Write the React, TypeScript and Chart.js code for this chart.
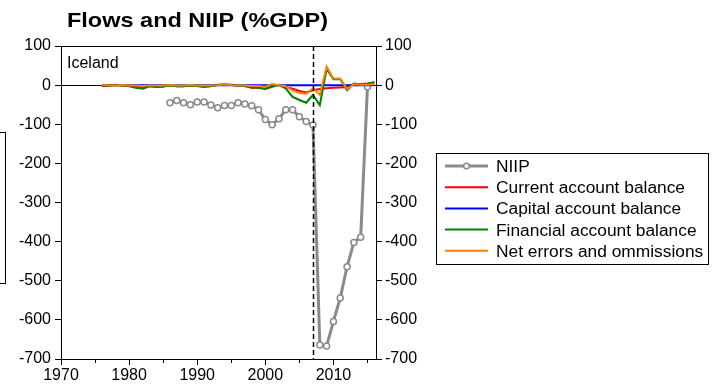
import { useEffect, useRef } from 'react';
import { Chart, registerables } from 'chart.js';

Chart.register(...registerables);

const FONT = "'Liberation Sans', Arial, Helvetica, sans-serif";

const TITLE = 'Flows and NIIP (%GDP)';
const COUNTRY = 'Iceland';

const FLOW_YEARS = [
  1976, 1977, 1978, 1979, 1980, 1981, 1982, 1983, 1984, 1985,
  1986, 1987, 1988, 1989, 1990, 1991, 1992, 1993, 1994, 1995,
  1996, 1997, 1998, 1999, 2000, 2001, 2002, 2003, 2004, 2005,
  2006, 2007, 2008, 2009, 2010, 2011, 2012, 2013, 2014, 2015, 2016,
];

const CURRENT_ACCOUNT = [
  -2, -2, 1, -1, -2, -4, -8, -2, -5, -4,
  0, -3, -3, -1, -2, -4, -2, 1, 2, 1,
  -2, -2, -7, -7, -10, -4, 1, -5, -9, -15,
  -19, -13, -10, -8, -7, -6, -5, 3, 3, 4, 6,
];

const CAPITAL_ACCOUNT = [
  0, 0, 0, 0, 0, 0, 0, 0, 0, 0,
  0, 0, 0, 0, 0, 0, 0, 0, 0, 0,
  0, 0, 0, 0, 0, 0, 0, 0, 0, 0,
  0, 0, 0, 0, 0, 0, 0, 0, 0, 0, 0,
];

const FINANCIAL_ACCOUNT = [
  0, -1, 0, -1, -3, -7, -9, -3, -4, -3,
  -1, -3, -3, -1, -2, -4, -3, 0, 1, 0,
  -1, -3, -6, -7, -9, -3, 0, -8, -30, -38,
  -45, -25, -51, 42, 15, 15, -13, 4, 2, 3, 8,
];

const NET_ERRORS = [
  0, -1, -1, 0, -1, -1, -2, -1, -1, -1,
  0, -1, -1, 0, -1, -1, -1, 0, 2, 0,
  -1, -1, -2, -2, -4, 3, 0, -3, -14, -20,
  -22, -8, -25, 47, 17, 17, -10, 2, 1, 1, 2,
];

const NIIP_YEARS = [
  1986, 1987, 1988, 1989, 1990, 1991, 1992, 1993, 1994, 1995,
  1996, 1997, 1998, 1999, 2000, 2001, 2002, 2003, 2004, 2005,
  2006, 2007, 2008, 2009, 2010, 2011, 2012, 2013, 2014, 2015,
];

const NIIP = [
  -45, -39, -45, -50, -43, -43, -51, -58, -52, -52,
  -45, -48, -53, -63, -88, -101, -86, -63, -63, -81,
  -93, -102, -664, -667, -604, -544, -464, -402, -389, -4,
];

const X_LABELS = [1970, 1980, 1990, 2000, 2010];
const X_MINOR = [1975, 1985, 1995, 2005, 2015];
const CRISIS_YEAR = 2007;

const LEGEND_LABELS = [
  'NIIP',
  'Current account balance',
  'Capital account balance',
  'Financial account balance',
  'Net errors and ommissions',
];
const COLORS = ['#8a8a8a', '#ff0000', '#0000ff', '#008000', '#ff8000'];

function pts(xs: number[], ys: number[]) {
  return xs.map((x, i) => ({ x, y: ys[i] }));
}

function drawStretched(ctx: CanvasRenderingContext2D, text: string, x: number, y: number, font: string, sx: number, align: 'left' | 'center') {
  ctx.save();
  ctx.font = font;
  ctx.textBaseline = 'alphabetic';
  ctx.textAlign = 'left';
  const w = ctx.measureText(text).width * sx;
  const x0 = align === 'center' ? x - w / 2 : x;
  ctx.translate(x0, y);
  ctx.scale(sx, 1);
  ctx.fillStyle = '#000';
  ctx.fillText(text, 0, 0);
  ctx.restore();
}

const decor = {
  id: 'decor',
  beforeDatasetsDraw(chart: any) {
    const { ctx, chartArea: a, scales } = chart;
    const y0 = Math.round(scales.y.getPixelForValue(0)) + 0.5;
    ctx.save();
    ctx.strokeStyle = '#000';
    ctx.lineWidth = 1;
    ctx.beginPath();
    ctx.moveTo(a.left, y0);
    ctx.lineTo(a.right, y0);
    ctx.stroke();
    ctx.restore();
  },
  afterDatasetsDraw(chart: any) {
    const { ctx, chartArea: a, scales } = chart;
    ctx.save();
    // dashed crisis line
    const xc = Math.round(scales.x.getPixelForValue(CRISIS_YEAR)) + 0.5;
    ctx.strokeStyle = '#000';
    ctx.lineWidth = 1.5;
    ctx.setLineDash([5, 3]);
    ctx.beginPath();
    ctx.moveTo(xc, a.top);
    ctx.lineTo(xc, a.bottom);
    ctx.stroke();
    ctx.setLineDash([]);
    // frame
    ctx.lineWidth = 1;
    ctx.strokeRect(Math.round(a.left) + 0.5, Math.round(a.top) + 0.5, Math.round(a.right - a.left), Math.round(a.bottom - a.top));
    // minor x ticks
    ctx.beginPath();
    X_MINOR.forEach((v) => {
      const px = Math.round(scales.x.getPixelForValue(v)) + 0.5;
      ctx.moveTo(px, a.bottom);
      ctx.lineTo(px, a.bottom + 4);
    });
    ctx.stroke();
    ctx.restore();
  },
  afterDraw(chart: any) {
    const { ctx, chartArea: a } = chart;
    ctx.save();
    // title
    ctx.font = `bold 21px ${FONT}`;
    const tw = ctx.measureText(TITLE).width;
    drawStretched(ctx, TITLE, 197.5, 27, `bold 21px ${FONT}`, 261 / tw, 'center');
    // country label
    drawStretched(ctx, COUNTRY, a.left + 6, 68, `16px ${FONT}`, 1, 'left');
    // legend
    const lx = 436, ly = 153, lw = 272, lh = 111;
    ctx.strokeStyle = '#000';
    ctx.lineWidth = 1;
    ctx.strokeRect(lx + 0.5, ly + 0.5, lw, lh);
    ctx.font = `16px ${FONT}`;
    const ref = ctx.measureText('Current account balance').width;
    const sx = 189 / ref;
    LEGEND_LABELS.forEach((label, i) => {
      const cy = 166 + i * 21.2;
      ctx.strokeStyle = COLORS[i];
      ctx.lineWidth = i === 0 ? 3 : 2;
      ctx.beginPath();
      ctx.moveTo(445, cy);
      ctx.lineTo(488, cy);
      ctx.stroke();
      if (i === 0) {
        ctx.beginPath();
        ctx.arc(466.5, cy, 2.8, 0, Math.PI * 2);
        ctx.fillStyle = '#fff';
        ctx.fill();
        ctx.lineWidth = 1.5;
        ctx.stroke();
      }
      drawStretched(ctx, label, 496, cy + 6, `16px ${FONT}`, sx, 'left');
    });
    // partially visible box at the left edge
    ctx.strokeStyle = '#000';
    ctx.lineWidth = 1;
    ctx.strokeRect(-10.5, 132.5, 16, 151);
    ctx.restore();
  },
};

export default function App() {
  const ref = useRef<HTMLCanvasElement | null>(null);
  useEffect(() => {
    if (!ref.current) return;
    const tickFont = { family: FONT, size: 16 };
    const chart = new Chart(ref.current, {
      type: 'line',
      data: {
        datasets: [
          {
            label: LEGEND_LABELS[4],
            data: pts(FLOW_YEARS, NET_ERRORS),
            borderColor: COLORS[4],
            borderWidth: 2,
            pointRadius: 0,
            tension: 0,
          },
          {
            label: LEGEND_LABELS[3],
            data: pts(FLOW_YEARS, FINANCIAL_ACCOUNT),
            borderColor: COLORS[3],
            borderWidth: 2,
            pointRadius: 0,
            tension: 0,
          },
          {
            label: LEGEND_LABELS[2],
            data: pts(FLOW_YEARS, CAPITAL_ACCOUNT),
            borderColor: COLORS[2],
            borderWidth: 2,
            pointRadius: 0,
            tension: 0,
          },
          {
            label: LEGEND_LABELS[1],
            data: pts(FLOW_YEARS, CURRENT_ACCOUNT),
            borderColor: COLORS[1],
            borderWidth: 2,
            pointRadius: 0,
            tension: 0,
          },
          {
            label: LEGEND_LABELS[0],
            data: pts(NIIP_YEARS, NIIP),
            borderColor: COLORS[0],
            borderWidth: 3,
            pointRadius: 3,
            pointBorderWidth: 1.5,
            pointBackgroundColor: '#fff',
            pointBorderColor: COLORS[0],
            tension: 0,
          },
        ],
      },
      options: {
        responsive: false,
        animation: false,
        devicePixelRatio: 1,
        layout: { padding: { top: 46, right: 281, bottom: 0, left: 0 } },
        plugins: { legend: { display: false }, tooltip: { enabled: false }, title: { display: false } },
        scales: {
          x: {
            type: 'linear',
            min: 1970,
            max: 2016.25,
            afterBuildTicks: (s: any) => { s.ticks = X_LABELS.map((v) => ({ value: v })); },
            afterFit: (s: any) => { s.height = 31; },
            ticks: { callback: (v: any) => String(v), font: tickFont, color: '#000', padding: 1, maxRotation: 0, autoSkip: false },
            grid: { drawOnChartArea: false, drawTicks: true, tickLength: 6, color: '#000', lineWidth: 1 },
            border: { display: false },
          },
          y: {
            type: 'linear',
            position: 'left',
            min: -700,
            max: 100,
            afterFit: (s: any) => { s.width = 61; },
            ticks: { stepSize: 100, callback: (v: any) => String(v), font: tickFont, color: '#000', padding: 4 },
            grid: { drawOnChartArea: false, drawTicks: true, tickLength: 6, color: '#000', lineWidth: 1 },
            border: { display: false },
          },
          y2: {
            type: 'linear',
            position: 'right',
            min: -700,
            max: 100,
            afterFit: (s: any) => { s.width = 60; },
            ticks: { stepSize: 100, callback: (v: any) => String(v), font: tickFont, color: '#000', padding: 3 },
            grid: { drawOnChartArea: false, drawTicks: true, tickLength: 6, color: '#000', lineWidth: 1 },
            border: { display: false },
          },
        },
      },
      plugins: [decor],
    });
    return () => chart.destroy();
  }, []);
  return (
    <div style={{ position: 'fixed', left: 0, top: 0, width: 717, height: 390, background: '#fff' }}>
      <canvas ref={ref} width={717} height={390} style={{ display: 'block' }} />
    </div>
  );
}
